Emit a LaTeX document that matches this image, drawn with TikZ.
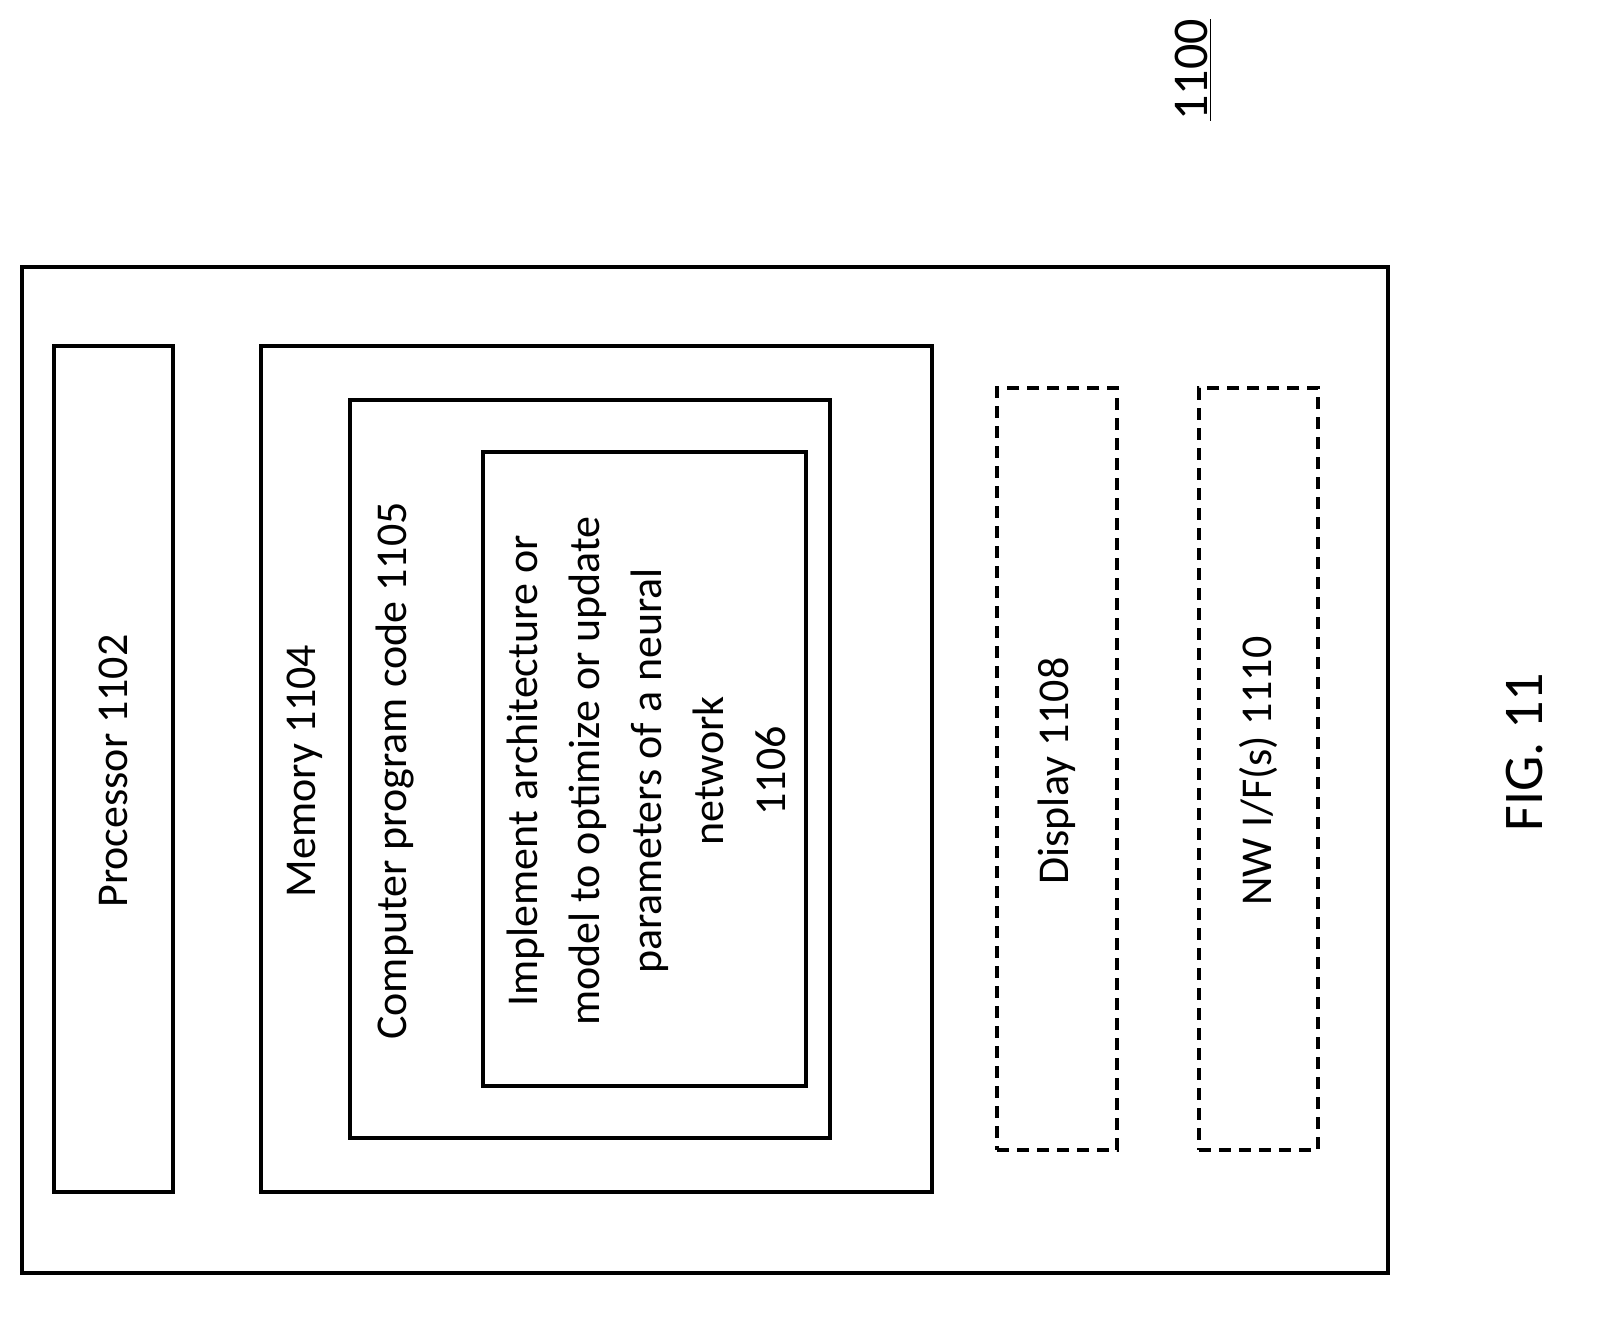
\documentclass[tikz,border=0pt]{standalone}
\usepackage{fontspec}
\setmainfont{Carlito}
\begin{document}
\begin{tikzpicture}[x=0.5pt,y=-0.5pt,
  box/.style={draw,line width=1.6pt,rectangle,inner sep=0pt},
  dbox/.style={box,dash pattern=on 6pt off 4pt},
  lbl/.style={rotate=90,font=\fontsize{22pt}{31pt}\selectfont,align=center}]
\useasboundingbox (0,0) rectangle (1600,1321);
\node[box,minimum width=683pt,minimum height=503pt] (outer) at (705,770) {};
\node[box,minimum width=59.5pt,minimum height=423pt] (proc) at (113.5,769) {};
\node[box,minimum width=335.5pt,minimum height=423pt] (mem) at (596.5,769) {};
\node[box,minimum width=240pt,minimum height=369pt] (code) at (590,769) {};
\node[box,minimum width=161.5pt,minimum height=317pt] (impl) at (644.5,769) {};
\node[dbox,minimum width=60pt,minimum height=381pt] (disp) at (1057,769) {};
\node[dbox,minimum width=59.5pt,minimum height=381pt] (nw) at (1258.5,769) {};
\node[lbl] (tproc) at (113.5,771) {Processor 1102};
\node[lbl] (tmem) at (305,771) {Memory 1104};
\node[lbl] (tcode) at (395,771) {Computer program code 1105};
\node[lbl] (timpl) at (646,771) {Implement architecture or\\model to optimize or update\\parameters of a neural\\network\\1106};
\node[lbl] (tdisp) at (1057,771) {Display 1108};
\node[lbl] (tnw) at (1258.5,771) {NW I/F(s) 1110};
\node[lbl,font=\fontsize{25pt}{28pt}\selectfont] (num) at (1193,70) {\underline{1100}};
\node[lbl,font=\fontsize{28pt}{32pt}\selectfont] (fig) at (1525,752) {FIG. 11};
\end{tikzpicture}
\end{document}
